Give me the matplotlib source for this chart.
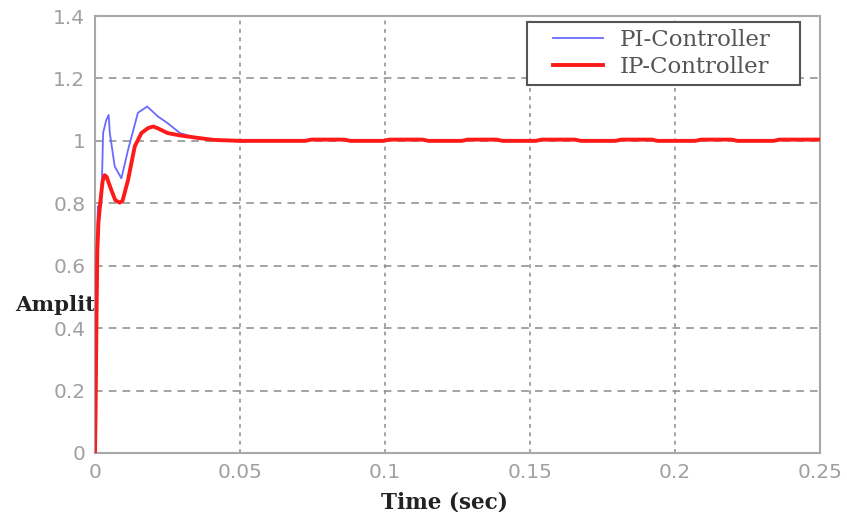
import matplotlib
matplotlib.use("Agg")
import matplotlib.pyplot as plt
from matplotlib.legend_handler import HandlerLine2D

# Data
pi_t = [0, 0.0003, 0.0010, 0.0022, 0.0028, 0.0039, 0.0047, 0.0051, 0.0068, 0.0091,
        0.0114, 0.0148, 0.0180, 0.0217, 0.0250, 0.0293, 0.0350, 0.0410, 0.0460, 0.0520]
pi_y = [0, 0.50, 0.79, 0.80, 1.026, 1.067, 1.083, 1.026, 0.918, 0.880,
        0.971, 1.090, 1.110, 1.078, 1.057, 1.025, 1.009, 1.003, 1.000, 0.997]

ip_t = [0, 0.0002, 0.0005, 0.0008, 0.0012, 0.0018, 0.0026, 0.0033, 0.0040, 0.0056,
        0.0070, 0.0085, 0.0095, 0.0114, 0.0137, 0.0160, 0.0183, 0.0201, 0.0217, 0.0250,
        0.0290, 0.0350, 0.0410, 0.0500,
        0.0725, 0.0745, 0.0860, 0.0880,
        0.0995, 0.1015, 0.1130, 0.1150,
        0.1265, 0.1285, 0.1385, 0.1405,
        0.1520, 0.1540, 0.1655, 0.1675,
        0.1795, 0.1815, 0.1920, 0.1940,
        0.2070, 0.2090, 0.2195, 0.2215,
        0.2340, 0.2360, 0.2466, 0.2500]
ip_y = [0, 0.13, 0.42, 0.65, 0.74, 0.80, 0.87, 0.89, 0.885, 0.843,
        0.810, 0.802, 0.808, 0.875, 0.982, 1.025, 1.041, 1.046, 1.040, 1.025,
        1.018, 1.010, 1.003, 1.000,
        1.000, 1.004, 1.004, 1.000,
        1.000, 1.004, 1.004, 1.000,
        1.000, 1.004, 1.004, 1.000,
        1.000, 1.004, 1.004, 1.000,
        1.000, 1.004, 1.004, 1.000,
        1.000, 1.004, 1.004, 1.000,
        1.000, 1.004, 1.004, 1.004]

x_ticks = [0, 0.05, 0.1, 0.15, 0.2, 0.25]
x_labels = ["0", "0.05", "0.1", "0.15", "0.2", "0.25"]
y_ticks = [0, 0.2, 0.4, 0.6, 0.8, 1, 1.2, 1.4]
y_labels = ["0", "0.2", "0.4", "0.6", "0.8", "1", "1.2", "1.4"]

W, H = 847, 512
fig = plt.figure(figsize=(W / 100, H / 100), dpi=100)
ax = fig.add_axes([95 / W, (H - 453) / H, (820 - 95) / W, (453 - 16) / H])
ax.set_zorder(1)

pi_line, = ax.plot(pi_t, pi_y, color="#6a6aff", lw=1.3, label="PI-Controller", zorder=3)
ip_line, = ax.plot(ip_t, ip_y, color="#ff1a1a", lw=2.8, label="IP-Controller", zorder=4)

ax.set_xlim(0, 0.25)
ax.set_ylim(0, 1.4)
ax.set_xticks(x_ticks)
ax.set_xticklabels(x_labels)
ax.set_yticks(y_ticks)
ax.set_yticklabels(y_labels)

grey = "#a0a0a0"
for s in ax.spines.values():
    s.set_color("#a8a8a8")
    s.set_linewidth(1.5)
ax.tick_params(colors=grey, labelsize=14.5, length=0, pad=7)
for lab in ax.get_xticklabels() + ax.get_yticklabels():
    lab.set_color(grey)

ax.xaxis.grid(True, color="#8a8a8a", linestyle=(0, (2.5, 3)), lw=1.1)
ax.yaxis.grid(True, color="#8a8a8a", linestyle=(0, (5, 4)), lw=1.1)
ax.set_axisbelow(True)

ax.set_xlabel("Time (sec)", family="DejaVu Serif", fontweight="bold",
              fontsize=15.5, color="#222222", labelpad=1)
ax.xaxis.set_label_coords(0.482, -0.088)

fig.text(15 / W, 1 - 305 / H, "Amplitude", family="DejaVu Serif",
         fontweight="bold", fontsize=15.3, color="#222222", va="center", ha="left",
         zorder=-1)

fs_pt = 16.5
fs_px = fs_pt * 100 / 72
x0 = (527 - 95) / 725
wbox = (800 - 527) / 725
top = 1 - (22 - 16) / 437
leg = ax.legend(handles=[pi_line, ip_line],
                loc="upper left", bbox_to_anchor=(x0, top, wbox, 0), mode="expand",
                prop={"family": "DejaVu Serif", "size": fs_pt},
                fancybox=False, edgecolor="#555555", framealpha=1,
                handlelength=69 / fs_px, borderaxespad=0, labelspacing=0.22,
                borderpad=0.3, handletextpad=17 / fs_px,
                handler_map={pi_line: HandlerLine2D(xpad=19 / fs_px),
                             ip_line: HandlerLine2D(xpad=19 / fs_px)})
leg.get_frame().set_linewidth(1.5)
for t in leg.get_texts():
    t.set_color("#555555")

fig.savefig("out.png", dpi=100)
